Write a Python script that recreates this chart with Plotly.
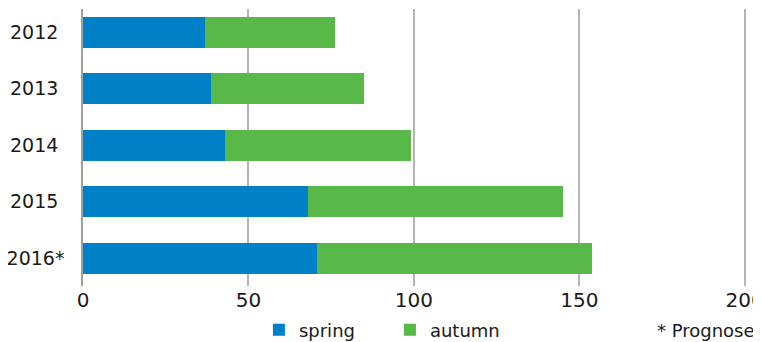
import plotly.graph_objects as go

years = ["2012", "2013", "2014", "2015", "2016*"]
year_labels = ["2012\u00a0", "2013\u00a0", "2014\u00a0", "2015\u00a0", "2016*"]
spring = [36.9, 38.8, 43.0, 68.0, 70.7]
autumn = [39.2, 46.1, 56.2, 77.1, 83.2]
x_ticks = [0, 50, 100, 150, 200]

BLUE = "#0080C6"
GREEN = "#59B948"
FONT = "DejaVu Sans, Verdana, sans-serif"

# page body has an 8px margin, so the figure is sized to fit the window
W, H = 753, 334
L, R, T, B = 75, 12.7, 1, 56
PW, PH = W - L - R, H - T - B


def px_x(x):
    return (x - L) / PW


def px_y(y):
    return 1 - (y - T) / PH


fig = go.Figure()
fig.add_trace(go.Bar(y=years, x=spring, name="spring", orientation="h",
                     marker={"color": BLUE, "line": {"width": 0}}))
fig.add_trace(go.Bar(y=years, x=autumn, name="autumn", orientation="h",
                     marker={"color": GREEN, "line": {"width": 0}}))

fig.add_annotation(text="* Prognose", x=px_x(647), y=px_y(322), xref="paper", yref="paper",
                   xanchor="left", yanchor="middle", showarrow=False,
                   font={"size": 18, "color": "#1a1a1a"})

fig.update_layout(
    barmode="stack",
    bargap=0.45,
    width=W,
    height=H,
    margin={"l": L, "r": R, "t": T, "b": B, "autoexpand": False},
    paper_bgcolor="white",
    plot_bgcolor="white",
    font={"family": FONT, "size": 20, "color": "#1a1a1a"},
    showlegend=True,
    legend={"orientation": "h", "x": px_x(251), "y": px_y(322),
            "xanchor": "left", "yanchor": "middle",
            "font": {"size": 18}, "traceorder": "normal",
            "entrywidth": 86, "entrywidthmode": "pixels", "itemwidth": 30},
    xaxis={"range": [0, 201], "tickvals": x_ticks, "showgrid": True, "automargin": False,
           "gridcolor": "#B4B4B4", "gridwidth": 1.5, "zeroline": False,
           "ticklabeloverflow": "allow",
           "showline": False, "ticks": "", "tickfont": {"size": 20}},
    yaxis={"autorange": False, "range": [4.49, -0.41], "showgrid": False, "automargin": False,
           "tickvals": years, "ticktext": year_labels,
           "ticks": "", "ticklabelstandoff": 13, "tickfont": {"size": 19},
           "showline": True, "linecolor": "#A0A0A0", "linewidth": 1.5},
)

fig.write_html("out.html")
